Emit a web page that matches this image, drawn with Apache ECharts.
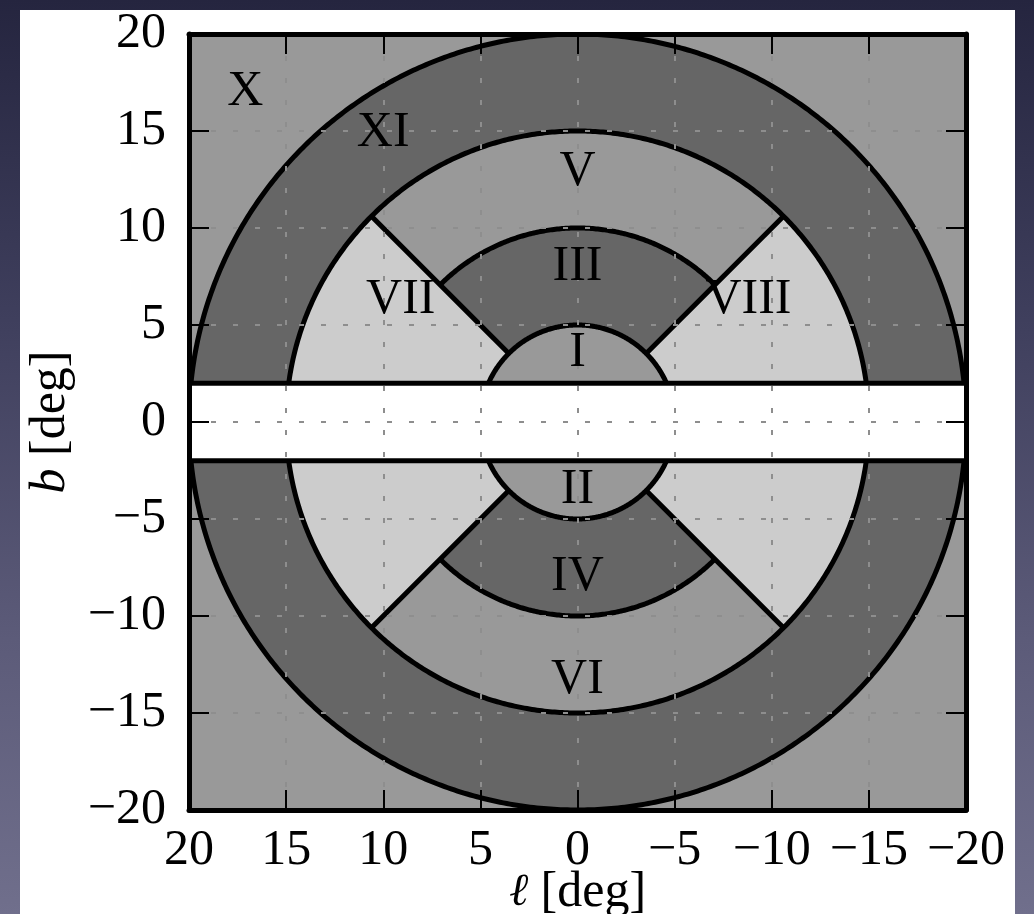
<!DOCTYPE html>
<html>
<head>
<meta charset="utf-8">
<script src="https://cdn.jsdelivr.net/npm/echarts@6/dist/echarts.min.js"></script>
<style>
  html, body { margin: 0; padding: 0; width: 1034px; height: 914px; overflow: hidden; }
  body { background: linear-gradient(to bottom, #25253f 0%, #3f3f5d 35%, #5c5b79 70%, #706f8c 100%); position: relative; }
  #paper { position: absolute; left: 20px; top: 10px; width: 995px; height: 904px; background: #ffffff; }
  #chart { position: absolute; left: 0; top: 0; width: 1034px; height: 914px; }
</style>
</head>
<body>
<div id="paper"></div>
<div id="chart"></div>
<script>
// ---- data ----
const xTicks = [20, 15, 10, 5, 0, -5, -10, -15, -20];   // l [deg]
const yTicks = [-20, -15, -10, -5, 0, 5, 10, 15, 20];   // b [deg]
const ringRadii = [5, 10, 15, 20];                      // ring boundaries [deg]
const wedgeAngles = [45, 135, 225, 315];                // wedge edges [deg]
const bandHalfWidth = [2];                              // masked |b| < 2
const regionNames = ['I', 'II', 'III', 'IV', 'V', 'VI', 'VII', 'VIII', 'X', 'XI'];
const regionL = [0, 0, 0, 0, 0, 0, 9.1, -8.8, 17.1, 10.0];
const regionB = [3.55, -3.5, 8.0, -8.0, 12.9, -13.3, 6.3, 6.3, 17.0, 14.9];

// ---- styles ----
const FONT = '"Liberation Serif", "DejaVu Serif", serif';
const FS = 50;
const DARK = '#666666', MID = '#999999', LIGHT = '#cccccc';
const LW = 5;

const xMin = Math.min(...xTicks), xMax = Math.max(...xTicks);
const yMin = Math.min(...yTicks), yMax = Math.max(...yTicks);
const step = Math.abs(xTicks[1] - xTicks[0]);
const fmt = v => String(v).replace('-', '\u2212');

function renderItem(params, api) {
  const P = (l, b) => api.coord([l, b]);
  const arc = (r, a0, a1) => {
    const pts = [];
    const n = Math.max(8, Math.round(Math.abs(a1 - a0) * 2));
    for (let i = 0; i <= n; i++) {
      const a = (a0 + (a1 - a0) * i / n) * Math.PI / 180;
      pts.push(P(r * Math.cos(a), r * Math.sin(a)));
    }
    return pts;
  };
  const sector = (r, a0, a1) => [P(0, 0)].concat(arc(r, a0, a1));
  const fillPoly = (pts, fill) => ({ type: 'polygon', shape: { points: pts }, style: { fill: fill, stroke: null } });
  const line = (pts) => ({ type: 'polyline', shape: { points: pts }, style: { stroke: '#000', lineWidth: LW, fill: null, lineJoin: 'round' } });

  const [r1, r2, r3, r4] = ringRadii;
  const [w1, w2, w3, w4] = wedgeAngles;
  const h = bandHalfWidth[0];
  const ch = [];
  // fills, painted outside-in
  ch.push(fillPoly(arc(r4, 0, 360), DARK));         // XI
  ch.push(fillPoly(arc(r3, 0, 360), LIGHT));        // VII / VIII
  ch.push(fillPoly(sector(r3, w1, w2), MID));       // V
  ch.push(fillPoly(sector(r3, w3, w4), MID));       // VI
  ch.push(fillPoly(sector(r2, w1, w2), DARK));      // III
  ch.push(fillPoly(sector(r2, w3, w4), DARK));      // IV
  ch.push(fillPoly(arc(r1, 0, 360), MID));          // I / II
  // outlines
  ch.push(line(arc(r4, 0, 360)));
  ch.push(line(arc(r3, 0, 360)));
  ch.push(line(arc(r1, 0, 360)));
  ch.push(line(arc(r2, w1, w2)));
  ch.push(line(arc(r2, w3, w4)));
  wedgeAngles.forEach(a => {
    const c = Math.cos(a * Math.PI / 180), s = Math.sin(a * Math.PI / 180);
    ch.push(line([P(r1 * c, r1 * s), P(r3 * c, r3 * s)]));
  });
  // masked band
  ch.push(fillPoly([P(xMin, -h), P(xMax, -h), P(xMax, h), P(xMin, h)], '#ffffff'));
  ch.push(line([P(xMin, h), P(xMax, h)]));
  ch.push(line([P(xMin, -h), P(xMax, -h)]));
  return { type: 'group', children: ch };
}

const axisCommon = {
  type: 'value',
  interval: step,
  axisLine: { show: true, onZero: false, lineStyle: { color: '#000', width: LW } },
  axisTick: { show: true, inside: true, length: 20, lineStyle: { color: '#000', width: 2 } },
  z: 5
};
const gridLine = { show: true, lineStyle: { color: '#8e8e8e', width: 2, type: [5, 17] } };

const chart = echarts.init(document.getElementById('chart'), null, { renderer: 'canvas' });
chart.setOption({
  backgroundColor: 'transparent',
  animation: false,
  grid: { left: 189, top: 34, right: 68, bottom: 104, show: true, backgroundColor: MID, borderWidth: 0,
          containLabel: false, outerBoundsMode: 'none' },
  xAxis: [
    Object.assign({}, axisCommon, {
      min: xMin, max: xMax, inverse: true, position: 'bottom',
      axisLabel: { show: true, formatter: fmt, fontFamily: FONT, fontSize: FS, color: '#000', margin: 16 },
      splitLine: gridLine,
      name: '{i|\u2113} [deg]', nameLocation: 'middle', nameGap: 58, nameMoveOverlap: false,
      nameTextStyle: { fontFamily: FONT, fontSize: FS, color: '#000',
        rich: { i: { fontFamily: '"DejaVu Serif", serif', fontStyle: 'italic', fontSize: FS - 4, color: '#000' } } }
    }),
    Object.assign({}, axisCommon, {
      min: xMin, max: xMax, inverse: true, position: 'top',
      axisLabel: { show: false }, splitLine: { show: false }
    })
  ],
  yAxis: [
    Object.assign({}, axisCommon, {
      min: yMin, max: yMax, position: 'left',
      axisLabel: { show: true, formatter: fmt, fontFamily: FONT, fontSize: FS, color: '#000', margin: 23 },
      splitLine: gridLine,
      name: '{i|b} [deg]', nameLocation: 'middle', nameGap: 113, nameRotate: 90, nameMoveOverlap: false,
      nameTextStyle: { fontFamily: FONT, fontSize: FS, color: '#000',
        rich: { i: { fontFamily: FONT, fontStyle: 'italic', fontSize: FS, color: '#000' } } }
    }),
    Object.assign({}, axisCommon, {
      min: yMin, max: yMax, position: 'right',
      axisLabel: { show: false }, splitLine: { show: false }
    })
  ],
  series: [
    {
      type: 'custom', coordinateSystem: 'cartesian2d', xAxisIndex: 0, yAxisIndex: 0,
      renderItem: renderItem, data: [[0, 0]], clip: true, z: 2, silent: true
    },
    {
      type: 'scatter', xAxisIndex: 0, yAxisIndex: 0, symbolSize: 0, z: 10, silent: true,
      data: regionNames.map((n, i) => ({ name: n, value: [regionL[i], regionB[i]] })),
      label: { show: true, position: 'inside', formatter: p => p.name, fontFamily: FONT, fontSize: FS, color: '#000', opacity: 1 }
    }
  ]
});
</script>
</body>
</html>
